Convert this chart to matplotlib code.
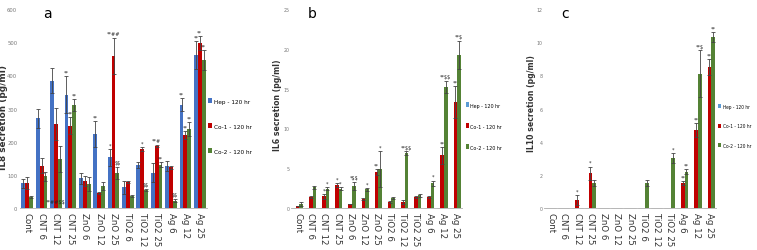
import matplotlib
matplotlib.use('Agg')
import matplotlib.pyplot as plt
from matplotlib import font_manager
import numpy as np

# Cytokine secretion after 120 hr, three cell lines.

groups = ['Cont', 'CNT 6', 'CNT 12', 'CNT 25', 'ZnO 6', 'ZnO 12', 'ZnO 25',
          'TiO2 6', 'TiO2 12', 'TiO2 25', 'Ag 6', 'Ag 12', 'Ag 25']
series = ['Hep - 120 hr', 'Co-1 - 120 hr', 'Co-2 - 120 hr']

# IL8 (panel a)
hep_a = [74, 270, 384, 342, 89, 223, 153, 62, 130, 106, 128, 312, 461]
hep_a_err = [13, 30, 38, 55, 18, 40, 25, 20, 8, 29, 15, 20, 43]
co1_a = [74, 128, 253, 248, 82, 45, 459, 79, 178, 188, 123, 221, 497]
co1_a_err = [18, 22, 48, 25, 15, 3, 55, 3, 5, 3, 5, 12, 22]
co2_a = [33, 95, 148, 311, 72, 65, 106, 35, 55, 131, 22, 238, 446]
co2_a_err = [3, 14, 40, 18, 20, 12, 19, 3, 3, 7, 5, 20, 30]

# IL6 (panel b)
hep_b = [0] * 13
hep_b_err = [0] * 13
co1_b = [0.25, 1.35, 1.45, 2.85, 0.5, 1.15, 4.5, 0.75, 0.75, 1.4, 1.4, 6.6, 13.3]
co1_b_err = [0.05, 0.15, 0.3, 0.25, 0.05, 0.1, 0.4, 0.1, 0.3, 0.15, 0.15, 1.1, 2.0]
co2_b = [0.5, 2.6, 2.4, 2.4, 2.75, 2.35, 4.9, 1.25, 6.9, 1.6, 3.1, 15.2, 19.2]
co2_b_err = [0.3, 0.2, 0.2, 0.2, 0.55, 0.2, 2.2, 0.15, 0.2, 0.2, 0.35, 0.8, 1.8]

# IL10 (panel c)
hep_c = [0] * 13
hep_c_err = [0] * 13
co1_c = [0, 0, 0.5, 2.1, 0, 0, 0, 0, 0, 0, 1.5, 4.7, 8.5]
co1_c_err = [0, 0, 0.3, 0.4, 0, 0, 0, 0, 0, 0, 0.1, 0.4, 0.5]
co2_c = [0, 0, 0, 1.5, 0, 0, 0, 1.5, 0, 3.0, 2.2, 8.1, 10.3]
co2_c_err = [0, 0, 0, 0.2, 0, 0, 0, 0.2, 0, 0.3, 0.15, 1.4, 0.3]

# significance marks: (group, series, text)
marks_a = [(3, 0, '**'), (5, 0, '**'), (6, 0, '*'), (11, 0, '**'), (12, 0, '**'),
           (3, 1, '**'), (6, 1, '**##'), (8, 1, '*'), (9, 1, '**#'), (11, 1, '**'), (12, 1, '**'),
           (3, 2, '**'), (6, 2, '$$'), (8, 2, '$$'), (9, 2, '**'), (10, 2, '$$'), (11, 2, '**'), (12, 2, '**')]
marks_b = [(2, 1, '*'), (2, 2, '*'), (3, 1, '*'), (3, 2, '*'), (4, 2, '*$$'), (5, 2, '*'),
           (6, 1, '**'), (6, 2, '*'), (8, 2, '**$$'), (10, 2, '*'),
           (11, 1, '**'), (11, 2, '**$$'), (12, 1, '**'), (12, 2, '**$')]
marks_c = [(2, 1, '*'), (3, 1, '*'), (9, 2, '*'), (10, 1, '**'), (10, 2, '**'),
           (11, 1, '**'), (11, 2, '**$'), (12, 1, '**'), (12, 2, '**')]

colors = ['#4472C4', '#C00000', '#548235']
W, H = 757, 251

# a narrow face for the small legend / tick text, if there is one
narrow, nstretch = 'DejaVu Sans', 'normal'
for f in font_manager.fontManager.ttflist:
    if 'Narrow' in f.name or 'Condensed' in f.name:
        narrow = f.name
        break
    if f.name == 'DejaVu Sans' and f.stretch == 'condensed':
        nstretch = 'condensed'
        break

fig = plt.figure(figsize=(W / 100, H / 100), dpi=100)
renderer = fig.canvas.get_renderer()

def fit_size(s, target_px):
    # font size that makes s about target_px wide in the narrow face
    t = fig.text(0, 0, s, fontsize=10, family=narrow, stretch=nstretch)
    w = t.get_window_extent(renderer).width
    t.remove()
    return 10 * target_px / w

def panel(left, right, vals, errs, marks, ymax, ystep, ylabel, lab_size, lab_y, letter, letter_x,
          tick_x, tick_w, ylab_x, leg_x, leg_w, hep_color):
    ax = fig.add_axes([left / W, 1 - 209 / H, (right - left) / W, 199 / H])
    x = np.arange(len(groups))
    bw = 0.27
    cols = [hep_color, colors[1], colors[2]]
    for k in range(3):
        ax.bar(x + (k - 1) * bw, vals[k], bw, color=cols[k], label=series[k],
               yerr=errs[k], ecolor='#444444', error_kw=dict(elinewidth=0.6, capsize=1.2, capthick=0.6))
    for g, k, t in marks:
        top = vals[k][g] + errs[k][g]
        ax.text(g + (k - 1) * bw, top + ymax * 0.008, t, fontsize=3.6, ha='center', va='bottom',
                color='#222222', parse_math=False)
    ax.set_xlim(-0.5, len(groups) - 0.5)
    ax.set_ylim(0, ymax)
    ticks = np.arange(0, ymax + 0.1, ystep)
    ax.set_yticks(ticks)
    ax.set_xticks(x)
    ax.set_xticklabels(groups, rotation=-90, fontsize=6.2, color='#333333')
    ax.tick_params(axis='x', length=0, pad=3)
    tsize = fit_size(str(int(ticks[-1])), tick_w)
    ax.tick_params(axis='y', length=0, labelsize=tsize, labelcolor='#777777', pad=left - tick_x)
    for lab in ax.get_yticklabels():
        lab.set_family(narrow)
        lab.set_stretch(nstretch)
    for s in ['top', 'right', 'left']:
        ax.spines[s].set_visible(False)
    ax.spines['bottom'].set_color('#BBBBBB')
    ax.spines['bottom'].set_linewidth(0.7)
    fig.text(ylab_x / W, 1 - lab_y / H, ylabel, rotation=90, fontsize=lab_size, ha='center', va='center',
             color='#333333', fontweight='bold')
    fig.text(letter_x / W, 1 - 14 / H, letter, fontsize=10, ha='center', va='center')
    lsize = fit_size(series[0], leg_w)
    ax.legend(loc='center left', bbox_to_anchor=(leg_x / W, 1 - 127 / H), bbox_transform=fig.transFigure,
              frameon=False, prop={'family': narrow, 'size': lsize, 'stretch': nstretch},
              handlelength=0.6, handleheight=0.9, handletextpad=0.3, labelspacing=3.0, borderpad=0)
    return ax

ax_a = panel(20, 207, [hep_a, co1_a, co2_a], [hep_a_err, co1_a_err, co2_a_err], marks_a,
             600, 100, 'IL8 secretion (pg/ml)', 6.4, 118, 'a', 47, 18, 10, 4, 205, 36, colors[0])
ax_a.text(2, 12, '**##$$', fontsize=3.6, ha='center', va='bottom', color='#222222', parse_math=False)
panel(291, 462, [hep_b, co1_b, co2_b], [hep_b_err, co1_b_err, co2_b_err], marks_b,
      25, 5, 'IL6 secretion (pg/ml)', 5.6, 105, 'b', 312, 290, 6, 278, 463, 30, '#5B9BD5')
panel(544, 716, [hep_c, co1_c, co2_c], [hep_c_err, co1_c_err, co2_c_err], marks_c,
      12, 2, 'IL10 secretion (pg/ml)', 5.6, 104, 'c', 565, 543, 6, 531, 716, 27, '#5B9BD5')

fig.savefig('out.png', dpi=100)
